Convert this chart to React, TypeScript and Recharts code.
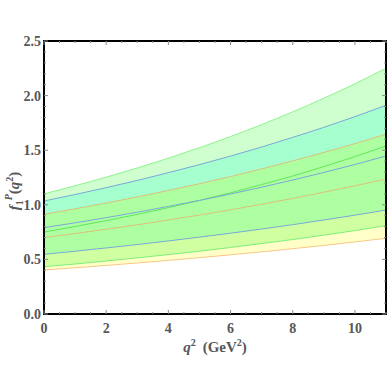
// Form factor f1^P(q^2) with three uncertainty bands

import {
  Area,
  ComposedChart,
  Label,
  Line,
  ReferenceArea,
  XAxis,
  YAxis,
} from "recharts";

const Q2 = [0, 1, 2, 3, 4, 5, 6, 7, 8, 9, 10, 11];

const GREEN_UP = [1.1, 1.174, 1.253, 1.337, 1.427, 1.523, 1.625, 1.734, 1.851, 1.976, 2.108, 2.25];
const GREEN_MID = [0.75, 0.801, 0.855, 0.912, 0.974, 1.04, 1.11, 1.185, 1.264, 1.35, 1.441, 1.538];
const GREEN_LOW = [0.433, 0.458, 0.485, 0.514, 0.544, 0.575, 0.609, 0.645, 0.682, 0.722, 0.764, 0.809];

const BLUE_UP = [1.035, 1.094, 1.157, 1.223, 1.294, 1.368, 1.446, 1.529, 1.617, 1.709, 1.807, 1.911];
const BLUE_MID = [0.79, 0.835, 0.882, 0.932, 0.985, 1.04, 1.099, 1.161, 1.227, 1.296, 1.369, 1.447];
const BLUE_LOW = [0.547, 0.575, 0.605, 0.636, 0.669, 0.704, 0.74, 0.778, 0.818, 0.861, 0.905, 0.952];

const ORANGE_UP = [0.913, 0.963, 1.016, 1.072, 1.131, 1.193, 1.259, 1.329, 1.402, 1.479, 1.56, 1.646];
const ORANGE_MID = [0.7, 0.737, 0.776, 0.817, 0.861, 0.906, 0.954, 1.005, 1.058, 1.115, 1.174, 1.236];
const ORANGE_LOW = [0.403, 0.423, 0.445, 0.467, 0.491, 0.516, 0.542, 0.569, 0.598, 0.628, 0.66, 0.693];

const X_MAJOR = [0, 2, 4, 6, 8, 10];
const X_TICKS = [0, 0.5, 1, 1.5, 2, 2.5, 3, 3.5, 4, 4.5, 5, 5.5, 6, 6.5, 7, 7.5, 8, 8.5, 9, 9.5, 10, 10.5, 11];
const Y_MAJOR = [0, 0.5, 1, 1.5, 2, 2.5];
const Y_TICKS = [0, 0.1, 0.2, 0.3, 0.4, 0.5, 0.6, 0.7, 0.8, 0.9, 1, 1.1, 1.2, 1.3, 1.4, 1.5, 1.6, 1.7, 1.8, 1.9, 2, 2.1, 2.2, 2.3, 2.4, 2.5];

const data = Q2.map((q, i) => ({
  q,
  green: [GREEN_LOW[i], GREEN_UP[i]],
  blue: [BLUE_LOW[i], BLUE_UP[i]],
  orange: [ORANGE_LOW[i], ORANGE_UP[i]],
  gu: GREEN_UP[i],
  gm: GREEN_MID[i],
  gl: GREEN_LOW[i],
  bu: BLUE_UP[i],
  bm: BLUE_MID[i],
  bl: BLUE_LOW[i],
  ou: ORANGE_UP[i],
  om: ORANGE_MID[i],
  ol: ORANGE_LOW[i],
}));

const FONT = "'Liberation Serif', 'DejaVu Serif', serif";
const TEXT = "#575757";
const TICK = "#8a8a8a";

const near = (a: number, list: number[]) => list.some((v) => Math.abs(v - a) < 1e-6);

function BottomTick(p: any) {
  const { x, y, payload } = p;
  const major = near(payload.value, X_MAJOR);
  return (
    <g>
      <line x1={x} x2={x} y1={y} y2={y - (major ? 4 : 2)} stroke={TICK} />
      {major && (
        <text x={x} y={y + 19} textAnchor="middle" fontFamily={FONT} fontWeight="bold" fontSize={14} fill={TEXT}>
          {payload.value}
        </text>
      )}
    </g>
  );
}

function TopTick(p: any) {
  const { x, y, payload } = p;
  const major = near(payload.value, X_MAJOR);
  return <line x1={x} x2={x} y1={y} y2={y + (major ? 4 : 2)} stroke={TICK} />;
}

function LeftTick(p: any) {
  const { x, y, payload } = p;
  const major = near(payload.value, Y_MAJOR);
  return (
    <g>
      <line x1={x} x2={x + (major ? 4 : 2)} y1={y} y2={y} stroke={TICK} />
      {major && (
        <text x={x - 3} y={y + 5} textAnchor="end" fontFamily={FONT} fontWeight="bold" fontSize={14} fill={TEXT}>
          {payload.value.toFixed(1)}
        </text>
      )}
    </g>
  );
}

function RightTick(p: any) {
  const { x, y, payload } = p;
  const major = near(payload.value, Y_MAJOR);
  return <line x1={x} x2={x - (major ? 4 : 2)} y1={y} y2={y} stroke={TICK} />;
}

function XTitle(p: any) {
  const { viewBox } = p;
  const cx = viewBox.x + viewBox.width / 2;
  return (
    <text x={cx} y={viewBox.y + 38} textAnchor="middle" fontFamily={FONT} fontWeight="bold" fontSize={15} fill={TEXT}>
      <tspan fontStyle="italic">q</tspan>
      <tspan dy={-6} fontSize={10}>2</tspan>
      <tspan dx={7} dy={6}>(GeV</tspan>
      <tspan dy={-6} fontSize={10}>2</tspan>
      <tspan dy={6}>)</tspan>
    </text>
  );
}

function YTitle() {
  const cx = 19;
  const cy = 191;
  return (
    <text
      x={cx}
      y={cy}
      transform={`rotate(-90 ${cx} ${cy})`}
      textAnchor="middle"
      fontFamily={FONT}
      fontWeight="bold"
      fontSize={15}
      fill={TEXT}
    >
      <tspan fontStyle="italic">f</tspan>
      <tspan dy={4} fontSize={10}>1</tspan>
      <tspan dy={-11} fontSize={10} fontStyle="italic">P</tspan>
      <tspan dy={7}>(</tspan>
      <tspan fontStyle="italic">q</tspan>
      <tspan dy={-6} fontSize={10}>2</tspan>
      <tspan dy={6}>)</tspan>
    </text>
  );
}

export default function App() {
  return (
    <div style={{ position: "absolute", left: 0, top: 0, background: "#fff" }}>
      <ComposedChart width={390} height={390} data={data} margin={{ top: 40, right: 3, bottom: 0, left: 0 }}>
        <XAxis
          dataKey="q"
          type="number"
          domain={[0, 11]}
          ticks={X_TICKS}
          interval={0}
          tick={<BottomTick />}
          tickLine={false}
          tickSize={0}
          tickMargin={0}
          height={76}
          axisLine={{ stroke: "#000", strokeWidth: 2 }}
          allowDataOverflow
        >
          <Label content={<XTitle />} />
        </XAxis>
        <XAxis
          xAxisId="top"
          orientation="top"
          dataKey="q"
          type="number"
          domain={[0, 11]}
          ticks={X_TICKS}
          interval={0}
          tick={<TopTick />}
          tickLine={false}
          tickSize={0}
          tickMargin={0}
          height={1}
          axisLine={{ stroke: "#000", strokeWidth: 2 }}
          allowDataOverflow
        />
        <YAxis
          type="number"
          domain={[0, 2.5]}
          ticks={Y_TICKS}
          interval={0}
          tick={<LeftTick />}
          tickLine={false}
          tickSize={0}
          tickMargin={0}
          width={44}
          axisLine={{ stroke: "#000", strokeWidth: 2 }}
          allowDataOverflow
        >
          <Label content={<YTitle />} />
        </YAxis>
        <YAxis
          yAxisId="right"
          orientation="right"
          type="number"
          domain={[0, 2.5]}
          ticks={Y_TICKS}
          interval={0}
          tick={<RightTick />}
          tickLine={false}
          tickSize={0}
          tickMargin={0}
          width={1}
          axisLine={{ stroke: "#000", strokeWidth: 2 }}
          allowDataOverflow
        />
        <Area dataKey="blue" type="monotone" fill="#00ffff" fillOpacity={0.2} stroke="none" isAnimationActive={false} />
        <Area dataKey="orange" type="monotone" fill="#ffff00" fillOpacity={0.22} stroke="none" isAnimationActive={false} />
        <Area dataKey="green" type="monotone" fill="#00ff00" fillOpacity={0.19} stroke="none" isAnimationActive={false} />
        <Line dataKey="gu" type="monotone" stroke="#8af58a" strokeWidth={1} dot={false} isAnimationActive={false} />
        <Line dataKey="gm" type="monotone" stroke="#5ee85e" strokeWidth={1} dot={false} isAnimationActive={false} />
        <Line dataKey="gl" type="monotone" stroke="#7cef7c" strokeWidth={1} dot={false} isAnimationActive={false} />
        <Line dataKey="bu" type="monotone" stroke="#7aa8d8" strokeWidth={1} dot={false} isAnimationActive={false} />
        <Line dataKey="bm" type="monotone" stroke="#7aa8d8" strokeWidth={1} dot={false} isAnimationActive={false} />
        <Line dataKey="bl" type="monotone" stroke="#7aa8d8" strokeWidth={1} dot={false} isAnimationActive={false} />
        <Line dataKey="ou" type="monotone" stroke="#dcc078" strokeWidth={1} dot={false} isAnimationActive={false} />
        <Line dataKey="om" type="monotone" stroke="#dcc078" strokeWidth={1} dot={false} isAnimationActive={false} />
        <Line dataKey="ol" type="monotone" stroke="#f8c888" strokeWidth={1} dot={false} isAnimationActive={false} />
        <ReferenceArea x1={0} x2={11} y1={0} y2={2.5} fill="none" stroke="#000" strokeWidth={2} ifOverflow="visible" />
      </ComposedChart>
    </div>
  );
}
